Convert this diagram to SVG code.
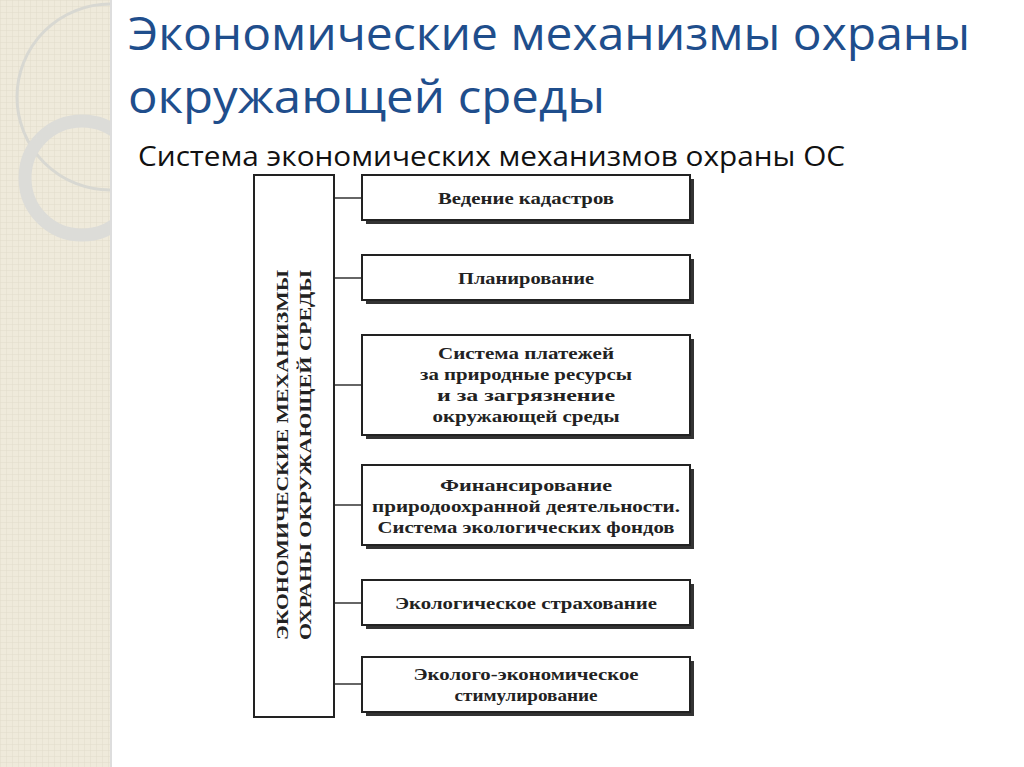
<svg xmlns="http://www.w3.org/2000/svg" width="1024" height="767" viewBox="0 0 1024 767">
<defs>
<pattern id="grid" width="6" height="6" patternUnits="userSpaceOnUse"><rect width="6" height="6" fill="#efeadb"/><path d="M0 0H6M0 0V6" stroke="#e2dccb" stroke-width="1"/></pattern>
</defs>
<style>
.box{fill:#fff;stroke:#222;stroke-width:2}
.sh{fill:#333}
.t{font-family:"Liberation Serif",serif;font-weight:bold;font-size:17px;fill:#222;text-anchor:middle}
.c{stroke:#333;stroke-width:1.5;fill:none}
</style>
<rect width="1024" height="767" fill="#fff"/>
<g id="decor">
<rect width="110" height="767" fill="url(#grid)"/>
<circle cx="110" cy="97" r="93" fill="none" stroke="#d8d8d2" stroke-width="3"/>
<circle cx="82" cy="178" r="57" fill="none" stroke="#dcdcd8" stroke-width="13"/>
<rect x="110" y="0" width="914" height="767" fill="#fff"/>
<line x1="111" y1="0" x2="111" y2="767" stroke="#ddd" stroke-width="2"/>
</g>
<g id="title" font-family="Open Sans, sans-serif">
<text x="128" y="50" font-size="46" fill="#1f4e8c" textLength="842" lengthAdjust="spacingAndGlyphs">Экономические механизмы охраны</text>
<text x="128" y="113" font-size="46" fill="#1f4e8c" textLength="477" lengthAdjust="spacingAndGlyphs">окружающей среды</text>
<text x="138" y="166" font-size="28" fill="#111" textLength="707" lengthAdjust="spacingAndGlyphs">Система экономических механизмов охраны ОС</text>
</g>
<g id="connectors">
<line class="c" x1="334" y1="175" x2="334" y2="690" stroke-width="3"/>
<line class="c" x1="334" y1="198" x2="362" y2="198"/>
<line class="c" x1="334" y1="278" x2="362" y2="278"/>
<line class="c" x1="334" y1="385" x2="362" y2="385"/>
<line class="c" x1="334" y1="505" x2="362" y2="505"/>
<line class="c" x1="334" y1="603" x2="362" y2="603"/>
<line class="c" x1="334" y1="684" x2="362" y2="684"/>
</g>
<g id="main">
<rect class="box" x="254" y="175" width="80" height="542"/>
<g transform="translate(294,455) rotate(-90)">
<text class="t" x="0" y="-6" font-size="19" textLength="370" lengthAdjust="spacingAndGlyphs">ЭКОНОМИЧЕСКИЕ МЕХАНИЗМЫ</text>
<text class="t" x="0" y="17" font-size="19" textLength="370" lengthAdjust="spacingAndGlyphs">ОХРАНЫ ОКРУЖАЮЩЕЙ СРЕДЫ</text>
</g>
</g>
<g id="n1"><rect class="sh" x="366" y="179" width="328" height="45"/><rect class="box" x="362" y="175" width="328" height="45"/><text class="t" x="526" y="204" textLength="176" lengthAdjust="spacingAndGlyphs">Ведение кадастров</text></g>
<g id="n2"><rect class="sh" x="366" y="259" width="328" height="45"/><rect class="box" x="362" y="255" width="328" height="45"/><text class="t" x="526" y="284" textLength="136" lengthAdjust="spacingAndGlyphs">Планирование</text></g>
<g id="n3"><rect class="sh" x="366" y="339" width="328" height="100"/><rect class="box" x="362" y="335" width="328" height="100"/><text class="t" x="526" y="359" textLength="176" lengthAdjust="spacingAndGlyphs">Система платежей</text><text class="t" x="526" y="380" textLength="212" lengthAdjust="spacingAndGlyphs">за природные ресурсы</text><text class="t" x="526" y="401" textLength="178" lengthAdjust="spacingAndGlyphs">и за загрязнение</text><text class="t" x="526" y="422" textLength="187" lengthAdjust="spacingAndGlyphs">окружающей среды</text></g>
<g id="n4"><rect class="sh" x="366" y="469" width="328" height="80"/><rect class="box" x="362" y="465" width="328" height="80"/><text class="t" x="526" y="491" textLength="172" lengthAdjust="spacingAndGlyphs">Финансирование</text><text class="t" x="526" y="512" textLength="308" lengthAdjust="spacingAndGlyphs">природоохранной деятельности.</text><text class="t" x="526" y="533" textLength="297" lengthAdjust="spacingAndGlyphs">Система экологических фондов</text></g>
<g id="n5"><rect class="sh" x="366" y="584" width="328" height="45"/><rect class="box" x="362" y="580" width="328" height="45"/><text class="t" x="526" y="609" textLength="262" lengthAdjust="spacingAndGlyphs">Экологическое страхование</text></g>
<g id="n6"><rect class="sh" x="366" y="661" width="328" height="55"/><rect class="box" x="362" y="657" width="328" height="55"/><text class="t" x="526" y="680" textLength="225" lengthAdjust="spacingAndGlyphs">Эколого-экономическое</text><text class="t" x="526" y="701" textLength="143" lengthAdjust="spacingAndGlyphs">стимулирование</text></g>
</svg>
